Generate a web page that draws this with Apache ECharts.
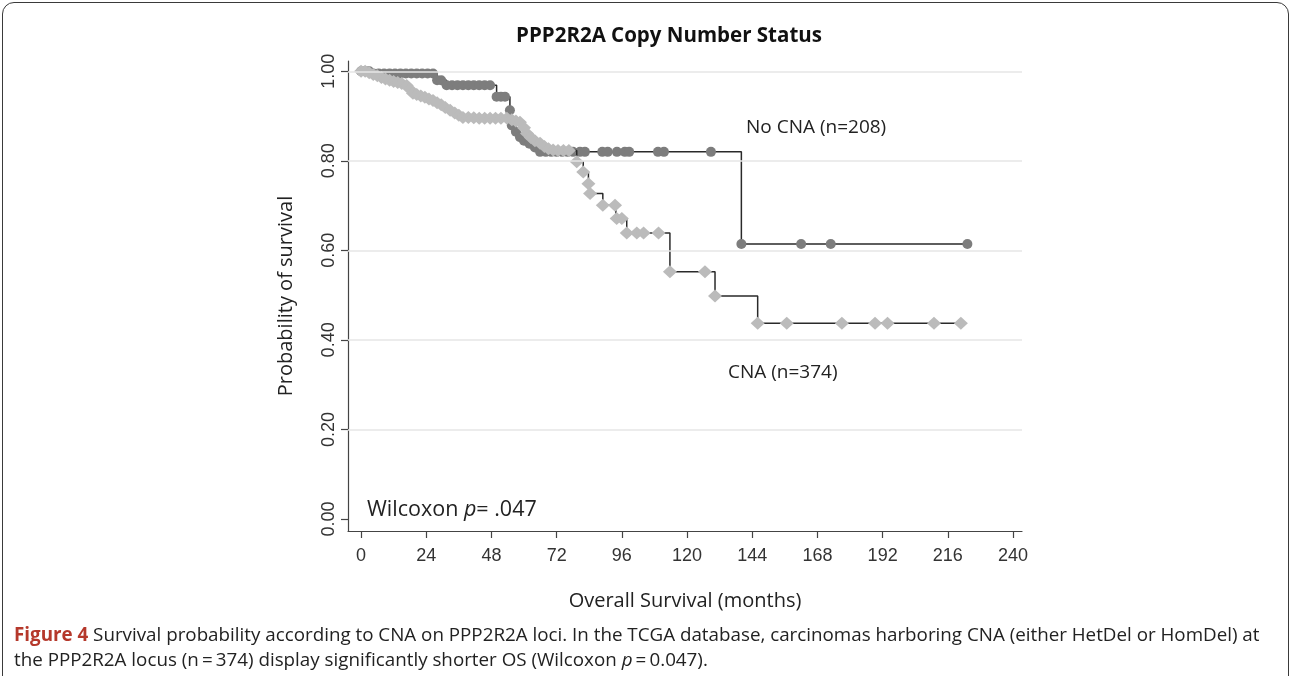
<!DOCTYPE html>
<html><head><meta charset="utf-8">
<script src="https://cdn.jsdelivr.net/npm/echarts@6/dist/echarts.min.js"></script>
<style>
html,body{margin:0;padding:0;background:#fff;overflow:hidden;}
#frame{position:absolute;left:2px;top:2px;width:1285px;height:720px;border:1.5px solid #3a3a3a;border-radius:12px;}
#chart{position:absolute;left:0;top:0;width:1292px;height:676px;}
</style></head><body>
<div id="frame"></div>
<div id="chart"></div>
<script>
const xTicks = [0, 24, 48, 72, 96, 120, 144, 168, 192, 216, 240];
const yTicks = [0, 0.2, 0.4, 0.6, 0.8, 1.0];
const gridValues = [0.2, 0.4, 0.6, 0.8, 1.0];

const noCnaMonths = [0, 1.5, 3, 4.5, 6.5, 8.5, 10.5, 12.5, 14.5, 16.5, 18.5, 20.5, 22.5, 24.5, 26.5, 28, 29.5,
  31.5, 33.5, 35.5, 37.5, 39.5, 41.5, 43.5, 45.5, 47.5, 49.9, 51.5, 53, 54.8, 55.5, 57, 58.5, 60, 62, 64,
  65.9, 68, 70, 72, 74, 76, 78, 80.6, 82.4, 88.8, 90.8, 94.2, 97.1, 98.7, 109.3, 111.5, 128.8, 140, 162, 172.9, 223.2];
const noCnaSurvival = [1, 1, 1, 0.995, 0.995, 0.995, 0.995, 0.995, 0.995, 0.995, 0.995, 0.995, 0.995, 0.995, 0.995, 0.98, 0.98,
  0.969, 0.969, 0.969, 0.969, 0.969, 0.969, 0.969, 0.969, 0.969, 0.943, 0.943, 0.943, 0.913, 0.879, 0.865, 0.853, 0.845, 0.838, 0.83,
  0.82, 0.82, 0.82, 0.82, 0.82, 0.82, 0.82, 0.82, 0.82, 0.82, 0.82, 0.82, 0.82, 0.82, 0.82, 0.82, 0.82, 0.614, 0.614, 0.614, 0.614];

const cnaMonths = [0, 1.5, 3, 4.5, 6, 7.5, 9, 10.5, 12, 13.5, 15, 16.8, 18, 19.1, 20.5, 22, 23.5, 25, 26.5, 28, 29.5,
  31, 32.8, 34.5, 36, 37.5, 39.5, 41.5, 43.5, 45.5, 47.5, 49.5, 51.5, 53.7, 55.5, 57, 58.5, 60, 61.1, 62.5, 64,
  65.9, 67.5, 69, 70.7, 72.5, 74.5, 76.5, 79.4, 81.8, 83.7, 84.3, 89, 93.5, 94.1, 96, 97.8, 101.5, 104, 109.5,
  113.7, 126.6, 130.3, 146, 156.7, 177, 189.2, 193.8, 210.9, 220.8];
const cnaSurvival = [1, 1, 0.997, 0.993, 0.99, 0.986, 0.983, 0.98, 0.977, 0.975, 0.973, 0.968, 0.96, 0.951, 0.948, 0.945, 0.942, 0.938, 0.935, 0.93, 0.925,
  0.919, 0.913, 0.907, 0.902, 0.897, 0.897, 0.896, 0.895, 0.895, 0.895, 0.895, 0.895, 0.895, 0.892, 0.889, 0.886, 0.874, 0.861, 0.852, 0.845,
  0.839, 0.832, 0.827, 0.824, 0.823, 0.823, 0.823, 0.798, 0.775, 0.749, 0.727, 0.701, 0.701, 0.671, 0.671, 0.639, 0.639, 0.639, 0.639,
  0.552, 0.552, 0.498, 0.437, 0.437, 0.437, 0.437, 0.437, 0.437, 0.437];

const zip = (a, b) => a.map((v, i) => [v, b[i]]);
const tickFont = 'Liberation Sans, Arial, sans-serif';
const textFont = 'Open Sans, Noto Sans, sans-serif';
const capFont = 'Open Sans, Noto Sans, sans-serif';
const capSize = 18.8;

const chart = echarts.init(document.getElementById('chart'), null, {renderer: 'canvas'});
chart.setOption({
  animation: false,
  backgroundColor: 'transparent',
  title: [
    {text: 'PPP2R2A Copy Number Status', left: 664, top: 21, textAlign: 'center',
     textStyle: {fontFamily: textFont, fontWeight: 'bold', fontSize: 20.5, color: '#111'}},
    {text: 'No CNA (n=208)', left: 741, top: 113,
     textStyle: {fontFamily: textFont, fontWeight: 'normal', fontSize: 19, color: '#222'}},
    {text: 'CNA (n=374)', left: 723, top: 358,
     textStyle: {fontFamily: textFont, fontWeight: 'normal', fontSize: 19, color: '#222'}},
    {text: 'Wilcoxon {i|p}= .047', left: 362, top: 494,
     textStyle: {fontFamily: textFont, fontWeight: 'normal', fontSize: 21.5, color: '#222',
       rich: {i: {fontFamily: textFont, fontStyle: 'italic', fontSize: 21.5, color: '#222'}}}},
    {text: '{b|Figure 4} Survival probability according to CNA on PPP2R2A loci. In the TCGA database, carcinomas harboring CNA (either HetDel or HomDel) at\nthe PPP2R2A locus (n\u2009=\u2009374) display significantly shorter OS (Wilcoxon {i|p}\u2009=\u20090.047).',
     left: 9, top: 618,
     textStyle: {fontFamily: capFont, fontSize: capSize, lineHeight: 25, color: '#222', fontWeight: 'normal',
       rich: {b: {fontFamily: capFont, fontWeight: 'bold', fontSize: capSize, lineHeight: 25, color: '#b5382b'},
              i: {fontFamily: capFont, fontStyle: 'italic', fontSize: capSize, lineHeight: 25, color: '#222'}}}}
  ],
  grid: {left: 348, right: 270, top: 61, bottom: 145, containLabel: false},
  xAxis: {
    type: 'value', min: -4.8, max: 243.3,
    name: 'Overall Survival (months)', nameLocation: 'middle', nameGap: 60,
    nameTextStyle: {fontFamily: textFont, fontSize: 20, color: '#222'},
    axisLine: {show: true, onZero: false, lineStyle: {color: '#444', width: 1.2}},
    axisTick: {show: true, length: 7, lineStyle: {color: '#444', width: 1.2}, customValues: xTicks},
    axisLabel: {customValues: xTicks, margin: 16, fontFamily: tickFont, fontSize: 18, color: '#333'},
    splitLine: {show: false}
  },
  yAxis: {
    type: 'value', min: -0.027, max: 1.023,
    name: 'Probability of survival', nameLocation: 'middle', nameGap: 52, nameRotate: 90,
    nameTextStyle: {fontFamily: textFont, fontSize: 20, color: '#222'},
    axisLine: {show: true, onZero: false, lineStyle: {color: '#444', width: 1.2}},
    axisTick: {show: true, length: 7, lineStyle: {color: '#444', width: 1.2}, customValues: yTicks},
    axisLabel: {customValues: yTicks, rotate: 90, margin: 10, fontFamily: tickFont, fontSize: 18, color: '#333',
      formatter: v => v.toFixed(2)},
    splitLine: {show: false}
  },
  series: [
    {type: 'line', data: [], z: 1, silent: true,
     markLine: {silent: true, symbol: 'none', label: {show: false},
       lineStyle: {color: '#e6e6e6', width: 1.5, type: 'solid'},
       data: gridValues.map(v => ({yAxis: v}))}},
    {name: 'No CNA', type: 'line', step: 'end', data: zip(noCnaMonths, noCnaSurvival), z: 3,
     symbol: 'circle', symbolSize: 10, showAllSymbol: true,
     lineStyle: {color: '#2a2a2a', width: 1.5}, itemStyle: {color: '#7d7d7d', borderWidth: 0}},
    {name: 'CNA', type: 'line', step: 'end', data: zip(cnaMonths, cnaSurvival), z: 4,
     symbol: 'diamond', symbolSize: [14, 13], showAllSymbol: true,
     lineStyle: {color: '#2a2a2a', width: 1.5}, itemStyle: {color: '#bbbbbb', borderWidth: 0}}
  ]
});
</script>
</body></html>
